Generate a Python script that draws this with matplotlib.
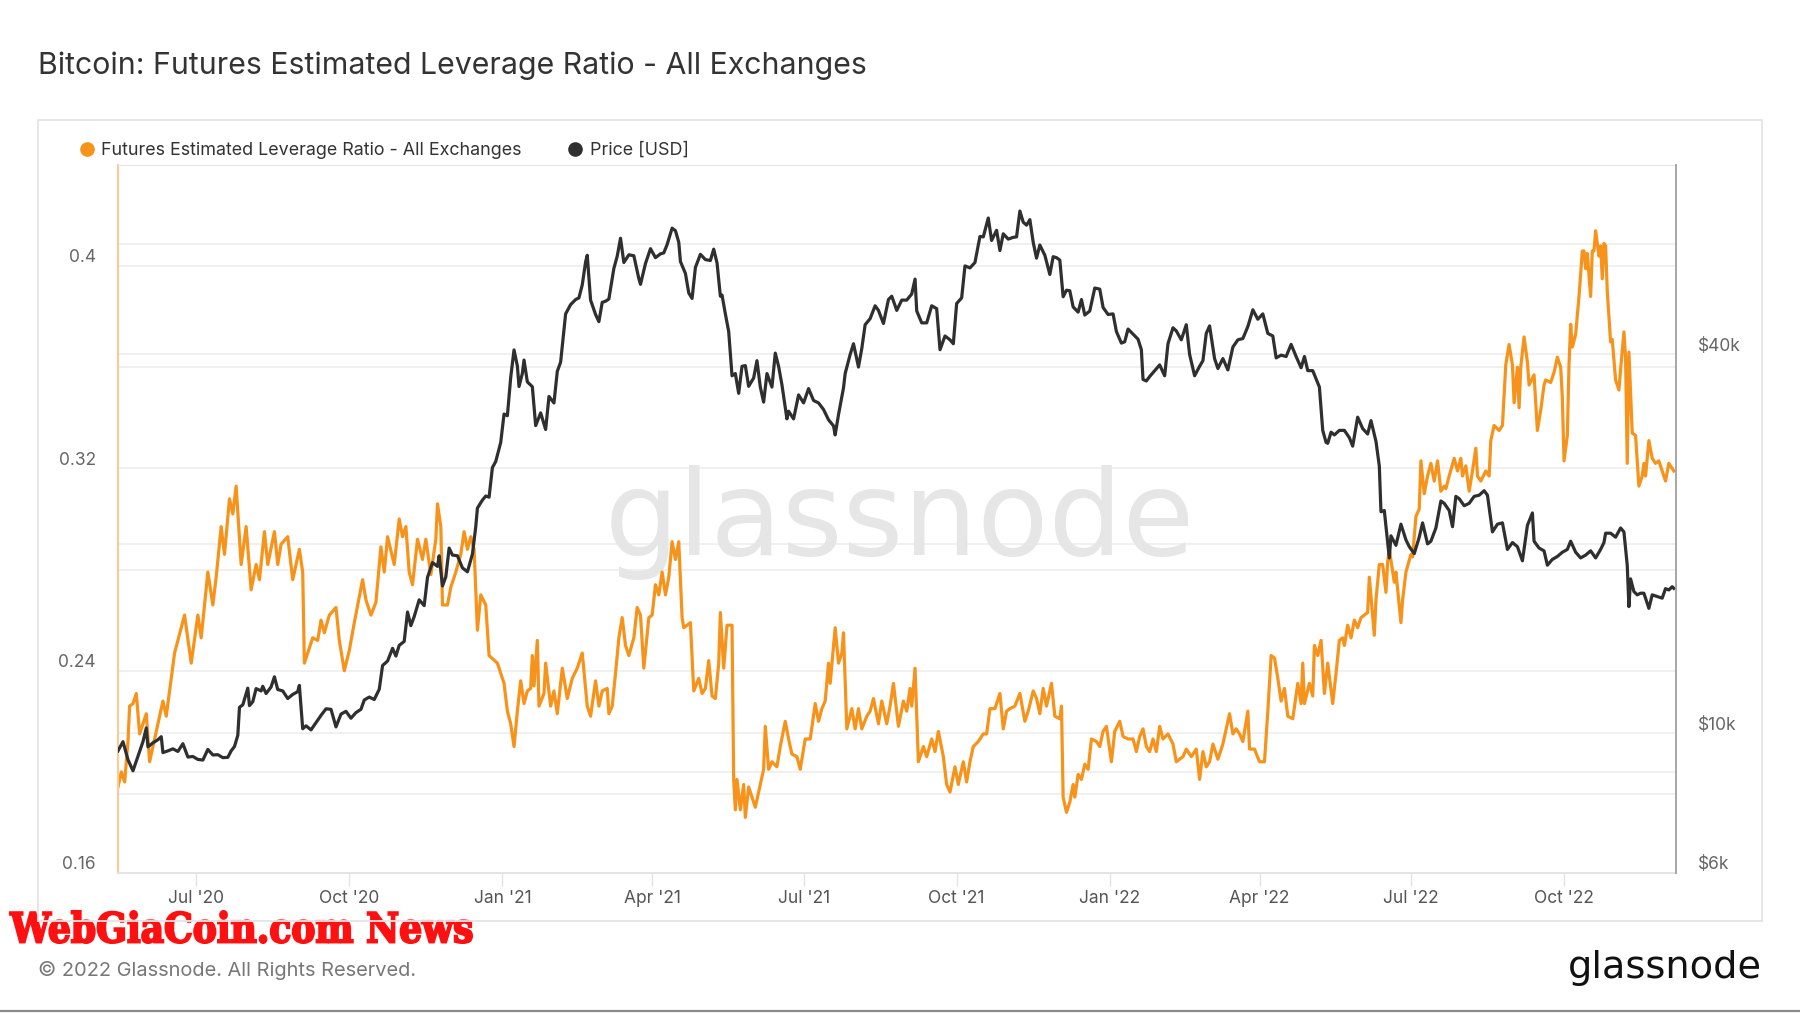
import matplotlib
matplotlib.use('Agg')
import matplotlib.pyplot as plt
import matplotlib.dates as mdates
import matplotlib.transforms as mtrans
from matplotlib.lines import Line2D
from matplotlib.patches import Rectangle, PathPatch
from matplotlib.textpath import TextPath
from matplotlib.font_manager import FontProperties
from matplotlib.ticker import NullLocator
import pandas as pd

plt.rcParams['font.family'] = ['Inter', 'DejaVu Sans']

# both series: x = days since 2020-05-15
start = pd.Timestamp('2020-05-15')

lev_day = [0, 2, 4, 6, 7, 9, 11, 13, 17, 19, 27, 29, 34, 40, 44, 48, 50, 54, 57, 59, 62, 64, 67, 69, 71, 74, 77, 80,
           83, 85, 88, 90, 94, 96, 98, 102, 105, 109, 111, 112, 115, 117, 120, 122, 124, 127, 131, 133, 136, 139, 142,
           147, 149, 152, 155, 158, 160, 162, 166, 169, 171, 173, 175, 177, 180, 183, 185, 188, 191, 192, 194, 195,
           198, 200, 203, 206, 208, 210, 212, 214, 216, 218, 221, 223, 228, 232,
           234, 236, 238, 240, 242, 244, 246, 248, 249, 250, 252, 253, 256, 257, 260, 262, 264, 267, 270, 273, 276,
           279, 282, 284, 287, 289, 291, 294, 295, 297, 299, 301, 303, 305, 307, 310, 312, 314, 316, 319, 321, 323,
           325, 327, 329, 331, 333, 335, 337, 339, 340, 344, 346, 349, 351, 353, 355, 357, 359, 361, 362, 364, 366,
           369, 370, 371, 372, 374, 376, 377, 379, 383, 386, 388, 389, 391, 393, 396, 398, 401, 403, 405, 408, 410,
           413, 416, 419, 421, 423, 425, 427, 428, 431, 433, 435, 436, 438, 441, 443, 445, 447, 450, 452, 454, 457,
           459, 462, 464, 466, 469,
           472, 474, 476, 477, 479, 481, 484, 486, 489, 491, 493, 496, 498, 500, 503, 505, 508, 510, 512, 514, 517,
           520, 522, 524, 527, 530, 532, 534, 536, 539, 542, 545, 547, 550, 552, 554, 556, 558, 561, 563, 566, 567,
           568, 570, 572, 574, 575, 577, 579, 581, 583, 585, 588, 590, 592, 594, 597, 599, 602, 604, 607, 610, 612,
           614, 616, 618, 620, 622, 624, 626, 628, 631, 634, 636, 640, 642, 645, 648, 650, 652, 654, 656, 658, 661,
           664, 666, 668, 670, 672, 674, 676, 679, 680, 683, 686, 689, 691, 693, 695, 697, 699, 701, 703,
           706, 709, 711, 712, 713, 716, 718, 719, 721, 723, 725, 727, 730, 732, 734, 736, 737, 739, 741, 743, 745,
           747, 749, 751, 752, 755, 756, 758, 760, 762, 763, 764, 767, 768, 771, 772, 774, 777, 778, 780, 782, 783,
           785, 787, 789, 791, 793, 795, 797, 798, 800, 803, 805, 807, 808, 810, 812, 814, 816, 817, 819, 822, 824,
           825, 827, 830, 832, 834, 836, 838, 839, 841, 842, 843, 845, 847, 848, 851, 853, 855, 857, 858, 861, 863,
           865, 867, 868, 869, 871, 872, 873, 874, 876, 878, 880, 881, 882, 883, 885, 886, 887, 888, 890, 891, 892,
           893, 894, 895, 897, 898, 900, 902, 903, 905, 906, 907, 908, 910, 912, 914, 916, 917, 918, 920, 922, 924,
           926, 928, 930, 932, 935]
lev_val = [0.194, 0.200, 0.196, 0.212, 0.226, 0.227, 0.231, 0.215, 0.223, 0.204, 0.228, 0.222, 0.247, 0.262, 0.243,
           0.262, 0.253, 0.279, 0.266, 0.277, 0.297, 0.286, 0.308, 0.302, 0.313, 0.282, 0.297, 0.272, 0.282, 0.276,
           0.295, 0.282, 0.295, 0.282, 0.290, 0.293, 0.276, 0.288, 0.279, 0.243, 0.249, 0.253, 0.252, 0.260, 0.255,
           0.262, 0.265, 0.252, 0.240, 0.248, 0.259, 0.276, 0.268, 0.262, 0.267, 0.289, 0.279, 0.293, 0.282, 0.300,
           0.293, 0.297, 0.279, 0.274, 0.292, 0.284, 0.292, 0.278, 0.292, 0.306, 0.297, 0.266, 0.266, 0.273, 0.279,
           0.286, 0.295, 0.288, 0.293, 0.288, 0.256, 0.270, 0.266, 0.246, 0.243, 0.235,
           0.224, 0.219, 0.210, 0.224, 0.236, 0.227, 0.232, 0.233, 0.246, 0.234, 0.252, 0.226, 0.231, 0.243, 0.226,
           0.232, 0.223, 0.241, 0.229, 0.237, 0.241, 0.247, 0.226, 0.222, 0.236, 0.226, 0.232, 0.233, 0.223, 0.226,
           0.239, 0.253, 0.261, 0.250, 0.246, 0.253, 0.265, 0.262, 0.241, 0.261, 0.262, 0.274, 0.270, 0.279, 0.270,
           0.277, 0.291, 0.284, 0.291, 0.261, 0.257, 0.259, 0.232, 0.237, 0.231, 0.233, 0.244, 0.230, 0.229, 0.243,
           0.263, 0.241, 0.258, 0.258, 0.197, 0.185, 0.197, 0.185, 0.195, 0.182, 0.194, 0.186, 0.195, 0.201, 0.218,
           0.201, 0.204, 0.202, 0.210, 0.220, 0.213, 0.207, 0.206, 0.201, 0.213, 0.213, 0.227, 0.220, 0.225, 0.228,
           0.243, 0.235, 0.257, 0.243, 0.247, 0.255, 0.217, 0.225, 0.217, 0.225, 0.217, 0.222, 0.224, 0.229, 0.219,
           0.228, 0.219, 0.226, 0.235, 0.218,
           0.228, 0.224, 0.233, 0.226, 0.241, 0.204, 0.210, 0.206, 0.213, 0.208, 0.216, 0.206, 0.195, 0.192, 0.202,
           0.195, 0.204, 0.196, 0.204, 0.210, 0.212, 0.215, 0.215, 0.225, 0.225, 0.231, 0.217, 0.224, 0.225, 0.226,
           0.231, 0.220, 0.224, 0.232, 0.229, 0.223, 0.233, 0.226, 0.235, 0.222, 0.221, 0.226, 0.190, 0.184, 0.188,
           0.195, 0.190, 0.199, 0.197, 0.203, 0.201, 0.213, 0.212, 0.210, 0.216, 0.218, 0.204, 0.216, 0.220, 0.214,
           0.213, 0.213, 0.208, 0.214, 0.217, 0.210, 0.208, 0.213, 0.208, 0.218, 0.213, 0.215, 0.211, 0.204, 0.206,
           0.209, 0.206, 0.209, 0.197, 0.208, 0.202, 0.204, 0.211, 0.205, 0.211, 0.217, 0.223, 0.215, 0.217, 0.215,
           0.212, 0.224, 0.209, 0.209, 0.204, 0.204, 0.224, 0.246, 0.245, 0.237, 0.228, 0.233, 0.222,
           0.221, 0.235, 0.227, 0.243, 0.227, 0.235, 0.230, 0.250, 0.246, 0.252, 0.231, 0.243, 0.227, 0.239, 0.252,
           0.253, 0.250, 0.258, 0.253, 0.260, 0.257, 0.261, 0.262, 0.263, 0.277, 0.254, 0.268, 0.282, 0.282, 0.271,
           0.283, 0.288, 0.275, 0.279, 0.259, 0.268, 0.279, 0.286, 0.285, 0.301, 0.304, 0.323, 0.310, 0.317, 0.322,
           0.315, 0.323, 0.311, 0.313, 0.312, 0.317, 0.324, 0.319, 0.324, 0.317, 0.321, 0.311, 0.319, 0.328, 0.317,
           0.315, 0.319, 0.317, 0.331, 0.337, 0.335, 0.337, 0.361, 0.369, 0.361, 0.346, 0.360, 0.344, 0.360, 0.372,
           0.362, 0.353, 0.357, 0.335, 0.343, 0.353, 0.355, 0.354, 0.358, 0.364, 0.360, 0.348, 0.323, 0.333, 0.361,
           0.377, 0.368, 0.373, 0.388, 0.406, 0.406, 0.399, 0.405, 0.388, 0.406, 0.406, 0.414, 0.404, 0.408, 0.395,
           0.409, 0.408, 0.390, 0.370, 0.371, 0.355, 0.351, 0.359, 0.374, 0.364, 0.322, 0.366, 0.334, 0.333, 0.313,
           0.317, 0.322, 0.317, 0.331, 0.324, 0.322, 0.323, 0.319, 0.315, 0.322, 0.319]

px_day = [0, 3, 6, 9, 12, 15, 17, 18, 21, 24, 26, 27, 30, 33, 36, 39, 42, 45, 48, 51, 54, 57, 60, 63, 66, 68, 70, 72,
          73, 75, 78, 79, 81, 83, 86, 87, 89, 92, 94, 96, 99, 102, 105, 108, 109, 111, 113, 116, 119, 122, 125, 128,
          131, 134, 137, 140, 143, 146, 148, 151, 154, 157, 159, 162, 165, 167, 169, 172, 174, 176, 178, 181, 184,
          186, 189, 192, 193, 195, 197, 199, 201, 204, 207, 210, 213, 215, 216, 219, 221, 223, 225, 227, 230, 232,
          234, 236, 238, 240, 241, 243, 244, 246, 249, 251, 254, 257, 259, 262, 264, 266, 269, 272, 275, 277, 279,
          281, 282, 284, 287, 289, 291, 293, 295, 298, 300, 302, 304, 307, 310, 313, 314, 317, 320, 323, 326, 328,
          330, 333, 335, 337, 338, 341, 343, 345, 347, 350, 353, 356, 358, 360, 362, 363, 365, 367, 369, 371, 373,
          375, 377, 379, 382, 384, 386, 388, 390, 393, 395, 397, 399, 402, 403, 406, 409, 412, 415, 418, 421, 424,
          427, 430, 431, 433, 436, 437, 440, 442, 445, 447, 449, 452, 455, 457, 460, 463, 465, 468, 471, 474, 477,
          479, 480, 483, 486, 489, 492, 494, 497, 500, 502, 504, 507, 509, 512, 515, 518, 520, 523, 525, 528, 530,
          532, 535, 538, 540, 542, 544, 546, 548, 550, 552, 554, 557, 560, 562, 564, 566, 568, 570, 572, 574, 577,
          579, 581, 584, 587, 590, 592, 595, 598, 600, 603, 605, 607, 610, 613, 615, 616, 618, 620, 623, 626, 629,
          631, 634, 636, 639, 642, 644, 647, 650, 652, 654, 656, 659, 661, 664, 667, 670, 673, 676, 679, 682, 685,
          688, 691, 694, 696, 699, 702, 705, 708, 711, 713, 715, 718, 720, 722, 724, 726, 727, 729, 731, 734, 737,
          740, 742, 745, 748, 751, 753, 756, 758, 759, 761, 764, 765, 768, 771, 774, 776, 779, 782, 784, 787, 789,
          792, 795, 797, 800, 802, 804, 806, 809, 812, 815, 818, 821, 823, 826, 829, 832, 835, 838, 841, 844, 847,
          850, 851, 854, 857, 859, 862, 865, 868, 871, 873, 876, 879, 882, 885, 888, 891, 893, 894, 897, 900, 903,
          905, 907, 908, 909, 911, 913, 915, 917, 920, 922, 925, 928, 930, 932, 934, 935]
px_usd = [9380, 9700, 9080, 8720, 9200, 9700, 10200, 9520, 9660, 9770, 9880, 9320, 9380, 9450, 9360, 9630, 9170,
          9190, 9090, 9070, 9430, 9240, 9250, 9150, 9160, 9380, 9530, 9930, 11000, 11100, 11800, 11070, 11230, 11780,
          11680, 11880, 11570, 11850, 12300, 11740, 11680, 11360, 11530, 11650, 11920, 10170, 10280, 10130, 10400,
          10680, 10940, 10920, 10240, 10730, 10840, 10570, 10790, 10920, 11300, 11420, 11320, 11750, 12820, 13030,
          13650, 13270, 13800, 14000, 15590, 14830, 15330, 16300, 15960, 17700, 18680, 18420, 19150, 17150, 17730,
          19700, 19200, 19150, 18320, 18060, 19270, 21310, 22800, 23480, 23830, 23730, 26440, 27040, 28990, 32170,
          31970, 36770, 40670, 38350, 35570, 37320, 39190, 36180, 35550, 30830, 32300, 30400, 34300, 33500, 37600,
          38900, 46400, 48000, 48900, 49200, 51600, 56100, 57500, 48800, 46300, 45100, 48400, 48600, 49000, 54800,
          57300, 61200, 56000, 57600, 57400, 52800, 51700, 55800, 58900, 57000, 57800, 58000, 59800, 63500, 62900,
          60300, 56200, 53800, 50100, 49100, 55000, 57700, 56600, 56400, 58800, 55900, 49500, 49700, 46400, 43500,
          37000, 37300, 34700, 38300, 38400, 35600, 36700, 39100, 35500, 33600, 37300, 35500, 40200, 38300, 35800,
          31600, 32500, 31600, 34500, 33500, 35300, 33800, 33500, 32700, 31500, 30800, 29800, 32100, 35400, 37300,
          40000, 41600, 38200, 40900, 44600, 45600, 47800, 47000, 44800, 48900, 49500, 47000, 48800, 48800, 49900,
          52700, 46900, 44900, 44900, 47800, 47300, 40700, 42800, 42200, 41600, 48200, 49200, 55300, 54900, 56000,
          61600, 61500, 65900, 60700, 63000, 58500, 62200, 61000, 61400, 61500, 67600, 64900, 64200, 65500, 60300,
          56900, 59700, 57500, 53600, 57200, 57000, 56500, 49400, 50600, 50500, 47600, 46700, 48900, 46200, 46900,
          51000, 50800, 47500, 46300, 46400, 43500, 41700, 41900, 43900, 43100, 42300, 40700, 36500, 36300, 36900,
          37700, 38500, 37000, 41600, 44100, 43600, 42200, 44600, 40000, 37000, 38300, 39100, 43200, 44400, 39400,
          38000, 39400, 37800, 41100, 42200, 42400, 44300, 47100, 45500, 46400, 43200, 42800, 39500, 39900, 39700,
          41500, 39700, 38100, 39700, 37700, 37700, 36600, 35500, 30300, 29000, 28900, 30100, 29800, 30300, 30300,
          29500, 28600, 31800, 30500, 29900, 31400, 29100, 26600, 22500, 22600, 19000, 20600, 19900, 21500, 20300,
          19800, 19300, 20500, 21600, 20000, 20200, 21200, 23400, 23200, 22600, 21300, 23800, 23600, 23000, 23200,
          23800, 23900, 24300, 23900, 20900, 21500, 21600, 19600, 20100, 19800, 18800, 21400, 22400, 20200, 19700,
          19500, 18500, 18900, 19100, 19400, 19600, 20200, 19400, 19000, 19200, 19500, 19000, 19600, 20100, 20800,
          20800, 20500, 21200, 20900, 18500, 15900, 17600, 16800, 16600, 16700, 16700, 15800, 16600, 16500, 16400,
          16980, 16900, 17100, 17000]

lev_left_ticks = [0.16, 0.24, 0.32, 0.4]
lev_grid = [0.2, 0.24, 0.28, 0.32, 0.36, 0.4]
px_ticks = [6000, 10000, 40000]
px_tick_labels = ['$6k', '$10k', '$40k']
px_grid = [8000, 10000, 20000, 40000, 60000]
x_ticks = ['2020-07-01', '2020-10-01', '2021-01-01', '2021-04-01', '2021-07-01',
           '2021-10-01', '2022-01-01', '2022-04-01', '2022-07-01', '2022-10-01']

ORANGE = '#f7931a'
DARK = '#2f2f2f'
W, H = 1800, 1013


def fx(p):
    return p / W


def fy(p):
    return 1 - p / H


lev_dates = start + pd.to_timedelta(lev_day, unit='D')
px_dates = start + pd.to_timedelta(px_day, unit='D')

fig = plt.figure(figsize=(18, 10.13), dpi=100)
fig.patch.set_facecolor('white')

# outer panel
fig.patches.append(Rectangle((fx(38), fy(921)), (1762 - 38) / W, (921 - 120) / H,
                             transform=fig.transFigure, fill=False, ec='#e4e4e4', lw=1.3))
fig.add_artist(Line2D([0, 1], [fy(1010.5)] * 2, color='#8a8a8a', lw=1.6))

ax = fig.add_axes([fx(118), fy(873), (1676 - 118) / W, (873 - 165) / H])
ax2 = ax.twinx()

ax.set_xlim(start, start + pd.Timedelta(days=936.3))
ax.set_ylim(0.16, 0.44)
ax2.set_yscale('log')
ax2.set_ylim(6000, 80000)

# grid lines (both scales) drawn on the bottom axes so the lines sit on top
for v in lev_grid:
    ax.axhline(v, color='#efefef', lw=1.3, zorder=0.5)
blend = mtrans.blended_transform_factory(ax.transAxes, ax2.transData)
for p in px_grid:
    ax.plot([0, 1], [p, p], transform=blend, color='#efefef', lw=1.3, zorder=0.5)

ax.text(fx(900), fy(554.5), 'glassnode', transform=fig.transFigure, ha='center', va='baseline',
        fontsize=84, family='DejaVu Sans', color='#e6e6e6', zorder=1)

ax.plot(lev_dates, lev_val, color=ORANGE, lw=2.3, zorder=2, solid_joinstyle='round')
ax2.plot(px_dates, px_usd, color=DARK, lw=2.3, zorder=2, solid_joinstyle='round')

# axes look
for a in (ax, ax2):
    for s in a.spines.values():
        s.set_visible(False)
ax.spines['left'].set_visible(True)
ax.spines['left'].set_color('#fbcb92')
ax.spines['left'].set_linewidth(1.5)
ax2.spines['right'].set_visible(True)
ax2.spines['right'].set_color('#a0a0a0')
ax2.spines['right'].set_linewidth(1.3)
ax.spines['top'].set_visible(True)
ax.spines['top'].set_color('#e8e8e8')
ax.spines['bottom'].set_visible(True)
ax.spines['bottom'].set_color('#e2e2e2')
ax.spines['bottom'].set_linewidth(1.3)

ax.set_yticks(lev_left_ticks)
ax.set_yticklabels(['0.16', '0.24', '0.32', '0.4'])
ax.tick_params(axis='y', length=0, pad=16, labelsize=12.5, labelcolor='#666666')
ax2.yaxis.set_minor_locator(NullLocator())
ax2.set_yticks(px_ticks)
ax2.set_yticklabels(px_tick_labels)
ax2.tick_params(axis='y', which='both', length=0, pad=16, labelsize=12.5, labelcolor='#666666')

shift = mtrans.ScaledTranslation(0, 7.4 / 72, fig.dpi_scale_trans)
for lab in ax.get_yticklabels() + ax2.get_yticklabels():
    lab.set_transform(lab.get_transform() + shift)

ax.set_xticks(pd.to_datetime(x_ticks))
ax.xaxis.set_major_formatter(mdates.DateFormatter("%b '%y"))
ax.tick_params(axis='x', length=9.4, width=1, color='#e2e2e2', pad=3, labelsize=12.5, labelcolor='#555555')

# title, legend, footer
fig.text(fx(38), fy(66), 'Bitcoin: Futures Estimated Leverage Ratio - All Exchanges',
         fontsize=21.8, color='#333333', va='center', ha='left')
fig.add_artist(Line2D([fx(86.7)], [fy(149)], marker='o', ms=9.5, color=ORANGE, lw=0))
fig.text(fx(101), fy(150.5), 'Futures Estimated Leverage Ratio - All Exchanges',
         fontsize=12.9, color='#333333', va='center', ha='left')
fig.add_artist(Line2D([fx(575)], [fy(149)], marker='o', ms=9.5, color=DARK, lw=0))
fig.text(fx(590), fy(150.5), 'Price [USD]', fontsize=12.9, color='#333333', va='center', ha='left')

fig.text(fx(38), fy(970), '\u00a9 2022 Glassnode. All Rights Reserved.',
         fontsize=14.4, color='#777777', va='center', ha='left')
fig.text(fx(1762), fy(977.7), 'glassnode', fontsize=27.5, family='DejaVu Sans',
         color='#111111', ha='right', va='baseline')

# red overlay caption: condensed heavy serif, fitted into its box
tp = TextPath((0, 0), 'WebGiaCoin.com News', size=1,
              prop=FontProperties(family='DejaVu Serif', weight='bold'))
ext = tp.get_extents()
sx = (472 - 10) / ext.width
sy = (943 - 911) / ext.height
tr = mtrans.Affine2D().translate(-ext.x0, -ext.y0).scale(sx, sy).translate(10, H - 943)
fig.add_artist(PathPatch(tp, transform=tr, fc='#ff1010', ec='#ff1010', lw=1.5))

fig.savefig('out.png', dpi=100, facecolor='white')
